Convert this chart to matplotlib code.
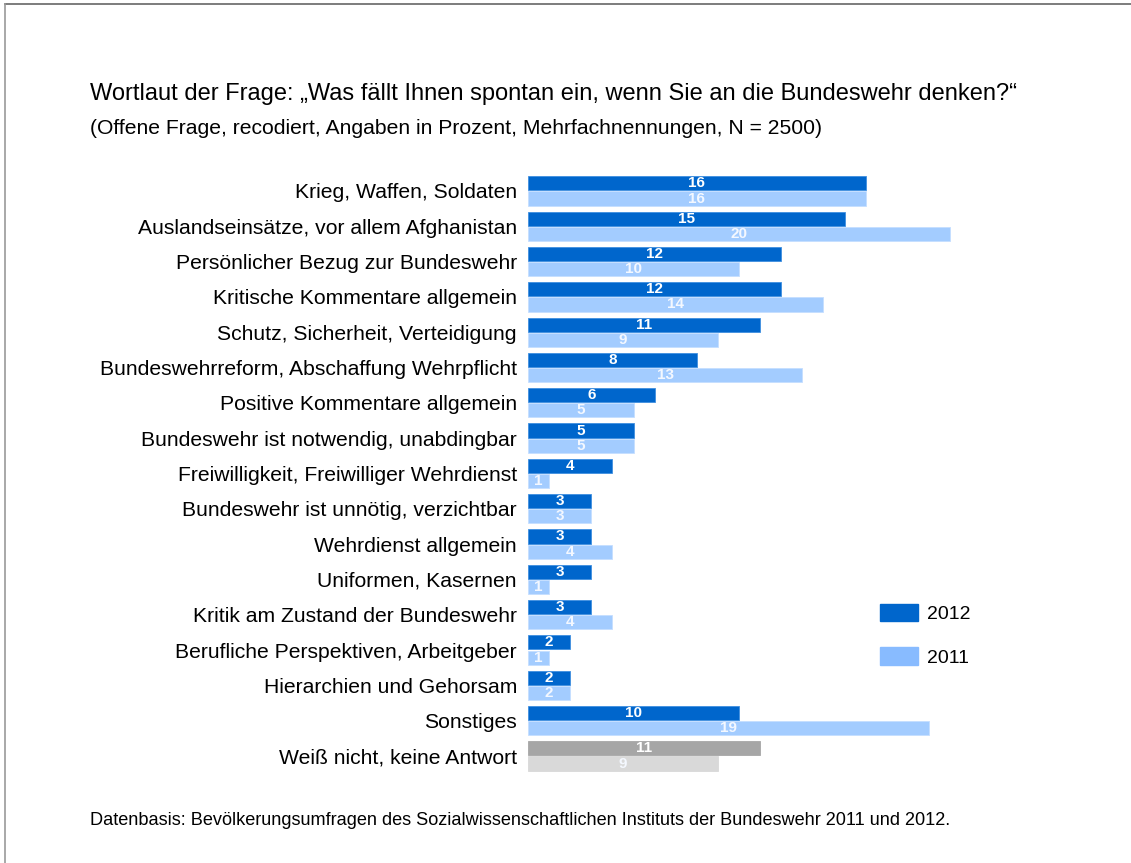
import matplotlib.pyplot as plt
from matplotlib.patches import Patch
from matplotlib.lines import Line2D
import numpy as np

plt.rcParams['font.family'] = ['Liberation Sans', 'DejaVu Sans']

categories = ['Krieg, Waffen, Soldaten',
              'Auslandseinsätze, vor allem Afghanistan',
              'Persönlicher Bezug zur Bundeswehr',
              'Kritische Kommentare allgemein',
              'Schutz, Sicherheit, Verteidigung',
              'Bundeswehrreform, Abschaffung Wehrpflicht',
              'Positive Kommentare allgemein',
              'Bundeswehr ist notwendig, unabdingbar',
              'Freiwilligkeit, Freiwilliger Wehrdienst',
              'Bundeswehr ist unnötig, verzichtbar',
              'Wehrdienst allgemein',
              'Uniformen, Kasernen',
              'Kritik am Zustand der Bundeswehr',
              'Berufliche Perspektiven, Arbeitgeber',
              'Hierarchien und Gehorsam',
              'Sonstiges',
              'Weiß nicht, keine Antwort']
values_2012 = [16, 15, 12, 12, 11, 8, 6, 5, 4, 3, 3, 3, 3, 2, 2, 10, 11]
values_2011 = [16, 20, 10, 14, 9, 13, 5, 5, 1, 3, 4, 1, 4, 1, 2, 19, 9]

dark = '#0066CC'
light = '#A3CCFF'
gray_dark = '#A6A6A6'
gray_light = '#D9D9D9'

W, H = 1131, 863
fig = plt.figure(figsize=(W / 100, H / 100), dpi=100)

# axes placed in pixel terms: x=0 at 528px, 21.1 px per unit
ax = fig.add_axes([528 / W, (H - 773.6) / H, 464.2 / W, 600.3 / H])
y = np.arange(len(categories))
c12 = [dark] * (len(categories) - 1) + [gray_dark]
c11 = [light] * (len(categories) - 1) + [gray_light]
b12 = ax.barh(y - 0.215, values_2012, height=0.4, color=c12, edgecolor='#3F8FE0', linewidth=0.6)
b11 = ax.barh(y + 0.215, values_2011, height=0.4, color=c11, edgecolor='#C5DEFF', linewidth=0.6)
b12[-1].set_edgecolor(gray_dark)
b11[-1].set_edgecolor(gray_light)

for i in range(len(categories)):
    ax.text(values_2012[i] / 2, y[i] - 0.215, str(values_2012[i]), ha='center', va='center',
            color='white', fontsize=11, fontweight='bold')
    ax.text(values_2011[i] / 2, y[i] + 0.215, str(values_2011[i]), ha='center', va='center',
            color='#F4F8FF', fontsize=11, fontweight='bold')

ax.set_xlim(0, 22)
ax.set_ylim(16.5, -0.5)
ax.set_yticks(y)
ax.set_yticklabels(categories, fontsize=15.25)
ax.tick_params(axis='y', length=0, pad=8)
ax.set_xticks([])
for s in ax.spines.values():
    s.set_visible(False)

handles = [Patch(facecolor=dark, edgecolor=dark), Patch(facecolor='#88BBFF', edgecolor='#88BBFF')]
fig.legend(handles, ['2012', '2011'], loc='upper left', bbox_to_anchor=(870 / W, 1 - 594 / H),
           frameon=False, fontsize=14, handlelength=1.95, handleheight=1.0,
           handletextpad=0.5, labelspacing=1.25, borderpad=0)

fig.text(90 / W, 1 - 94 / H, 'Wortlaut der Frage: „Was fällt Ihnen spontan ein, wenn Sie an die Bundeswehr denken?“',
         fontsize=17, va='center', ha='left')
fig.text(90 / W, 1 - 129 / H, '(Offene Frage, recodiert, Angaben in Prozent, Mehrfachnennungen, N = 2500)',
         fontsize=15.2, va='center', ha='left')
fig.text(90 / W, 1 - 820 / H, 'Datenbasis: Bevölkerungsumfragen des Sozialwissenschaftlichen Instituts der Bundeswehr 2011 und 2012.',
         fontsize=13.05, va='center', ha='left')

# frame lines at top and left
fig.add_artist(Line2D([5 / W, 1], [1 - 4 / H, 1 - 4 / H], color='#666666', linewidth=1.2))
fig.add_artist(Line2D([5 / W, 5 / W], [0, 1 - 4 / H], color='#999999', linewidth=1.2))

fig.savefig('out.png', dpi=100)
